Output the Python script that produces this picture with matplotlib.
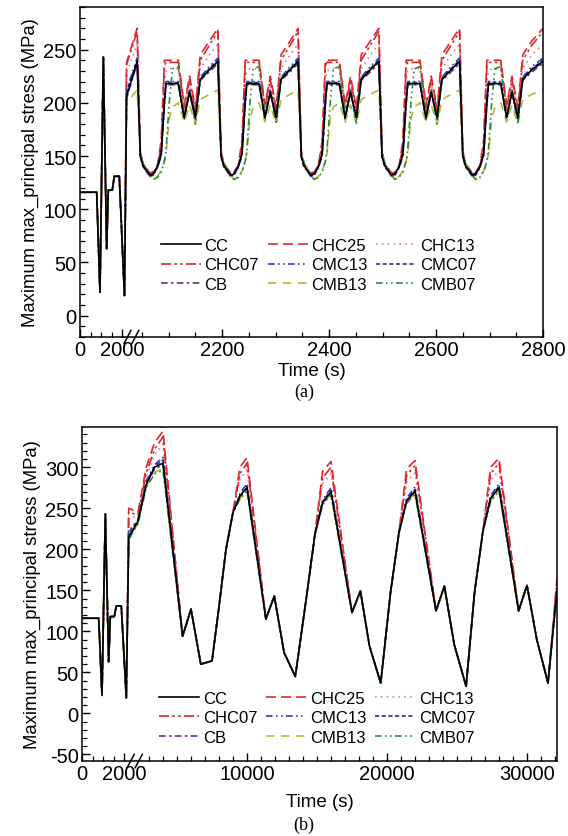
import numpy as np
import matplotlib
matplotlib.use("Agg")
import matplotlib.pyplot as plt
from matplotlib.ticker import FixedLocator

plt.rcParams['font.family'] = ['Liberation Sans', 'DejaVu Sans']
plt.rcParams['axes.unicode_minus'] = False

names = ["CC", "CHC25", "CHC13", "CHC07", "CMC13", "CMC07", "CB", "CMB13", "CMB07"]
colors = {"CC": "#000000", "CHC25": "#e3262e", "CHC13": "#e87a95", "CHC07": "#d42a2a",
          "CMC13": "#2b3bd6", "CMC07": "#26308a", "CB": "#6a2a8a", "CMB13": "#b8b830",
          "CMB07": "#2e8b3a"}
dashes = {"CC": None, "CHC25": (6, 3), "CHC13": (1, 2.5), "CHC07": (6, 2, 1.5, 2, 1.5, 2),
          "CMC13": (4, 2, 1, 2, 1, 2), "CMC07": (2.5, 1.5), "CB": (4, 2, 1.5, 2),
          "CMB13": (5, 4), "CMB07": (4, 2, 1, 2, 1, 2)}

# first part before the axis break (all curves lie on top of each other)
seg1_t = [0, 795, 952, 1110, 1270, 1348, 1538, 1633, 1871]
seg1_y = [116, 116, 22, 243, 63, 118, 118, 131, 131]

# ---- panel (a): 0-2800 s
top_gap_t = [2007, 2013]
top_gap = {"CC": 206, "CHC25": 238, "CHC13": 228, "CHC07": 236, "CMC13": 212,
           "CMC07": 210, "CB": 205, "CMB13": 200, "CMB07": 204}
top_drops = [2041, 2192, 2342, 2493, 2644]
top_end = 2800
cyc_dt = [0, 6, 11, 24, 30, 38, 45, 51, 54, 60, 66, 77, 88, 98, 109, 118, 135]
top_cycle = {
    "CC":    [239, 150, 141, 132, 133, 140, 152, 200, 218, 218, 218, 218, 186, 210, 186, 222, 231],
    "CHC25": [270, 155, 143, 134, 135, 141, 165, 240, 240, 240, 240, 240, 198, 225, 195, 245, 258],
    "CHC13": [255, 152, 142, 133, 134, 140, 155, 220, 230, 232, 232, 232, 190, 218, 190, 232, 245],
    "CHC07": [267, 153, 142, 133, 134, 140, 160, 235, 238, 238, 238, 238, 195, 222, 192, 240, 254],
    "CMC13": [242, 150, 140, 131, 132, 139, 150, 205, 220, 220, 220, 220, 184, 212, 184, 224, 234],
    "CMC07": [240, 149, 140, 131, 132, 140, 151, 202, 219, 219, 219, 219, 185, 211, 185, 223, 232],
    "CB":    [237, 151, 142, 133, 134, 141, 153, 198, 217, 217, 217, 217, 187, 209, 187, 221, 229],
    "CMB13": [212, 152, 143, 132, 128, 131, 136, 145, 152, 185, 196, 200, 182, 198, 180, 203, 208],
    "CMB07": [238, 153, 143, 132, 128, 130, 135, 145, 155, 200, 232, 234, 188, 212, 180, 222, 231],
}

# ---- panel (b): 0-32000 s
bot_gap_t = [2025, 2052]
bot_gap = {"CC": 215, "CHC25": 250, "CHC13": 238, "CHC07": 245, "CMC13": 222,
           "CMC07": 220, "CB": 214, "CMB13": 212, "CMB07": 212}
bot_t = [2214, 2800, 3400, 4000, 5400, 6000, 6700, 7500, 8000, 8500, 9000, 9500, 10000,
         11350, 11950, 12650, 13450, 14250, 14850, 15400, 16000,
         17500, 18100, 18750, 19550, 20250, 20850, 21400, 22000,
         23500, 24100, 24800, 25650, 26250, 26850, 27400, 28000,
         29400, 30000, 30700, 31500, 32143]
bot_cc = [234, 279, 300, 305, 94, 127, 60, 64, 130, 200, 245, 265, 275,
          115, 143, 74, 45, 142, 218, 257, 270,
          123, 149, 82, 37, 147, 220, 259, 271,
          125, 155, 84, 33, 147, 222, 260, 275,
          125, 156, 90, 37, 151]
pre_idx = [2, 11, 19, 27, 35]
peak_idx = [3, 12, 20, 28, 36]
bot_start = {"CC": [234, 279], "CHC25": [245, 300], "CHC13": [240, 288], "CHC07": [242, 293],
             "CMC13": [236, 283], "CMC07": [235, 281], "CB": [234, 278], "CMB13": [232, 276],
             "CMB07": [231, 275]}
bot_pre = {"CC": [300, 265, 257, 259, 262], "CHC25": [330, 300, 295, 298, 300],
           "CHC13": [315, 285, 280, 282, 284], "CHC07": [322, 292, 287, 290, 292],
           "CMC13": [303, 268, 260, 262, 265], "CMC07": [301, 266, 258, 260, 263],
           "CB": [298, 264, 256, 258, 261], "CMB13": [294, 262, 255, 257, 259],
           "CMB07": [292, 261, 254, 256, 258]}
bot_peak = {"CC": [305, 275, 270, 271, 275], "CHC25": [344, 312, 307, 308, 311],
            "CHC13": [328, 297, 292, 293, 296], "CHC07": [337, 305, 300, 302, 305],
            "CMC13": [312, 280, 275, 276, 280], "CMC07": [309, 277, 272, 273, 277],
            "CB": [303, 274, 269, 270, 274], "CMB13": [298, 272, 267, 268, 272],
            "CMB07": [296, 271, 266, 267, 271]}
bot_end_red = {"CHC25": 165, "CHC07": 160}


def top_series(name):
    t = seg1_t + top_gap_t
    y = seg1_y + [19, top_gap[name]]
    prof = top_cycle[name]
    for d in top_drops:
        t = t + [d + dt for dt in cyc_dt]
        y = y + prof
    t.append(top_end)
    y.append(prof[0])
    return t, y


def bot_series(name):
    y = list(bot_cc)
    y[0:2] = bot_start[name]
    for i, v in zip(pre_idx, bot_pre[name]):
        y[i] = v
    for i, v in zip(peak_idx, bot_peak[name]):
        y[i] = v
    if name in bot_end_red:
        y[-1] = bot_end_red[name]
    return seg1_t + bot_gap_t + bot_t, seg1_y + [19, bot_gap[name]] + y


def broken_scale(t_break_end, t_max, w_total, w1=42.0, w_gap=13.0):
    s3 = (w_total - w1 - w_gap) / (t_max - t_break_end)
    tb = [-1e6, 0, 2000, t_break_end, t_max, 1e7]
    ub = [-1e6 * w1 / 2000, 0, w1, w1 + w_gap, w_total, w_total + (1e7 - t_max) * s3]
    return (lambda t: np.interp(t, tb, ub)), (lambda u: np.interp(u, ub, tb))


def style_axes(ax, frac0, xpad):
    for sp in ax.spines.values():
        sp.set_linewidth(1.1)
    ax.tick_params(which='both', direction='in', top=False, right=False, labelsize=14.5)
    ax.tick_params(which='major', length=6, width=1.0, pad=2.5)
    ax.tick_params(which='minor', length=3.5, width=0.9)
    ax.set_xlabel('Time (s)', fontsize=13.5, labelpad=xpad)
    ax.set_ylabel('Maximum max_principal stress (MPa)', fontsize=13.3, labelpad=3)
    # break marks on the time axis
    for x0 in (frac0, frac0 + 0.017):
        ax.plot([x0, x0 + 0.015], [-0.02, 0.02], transform=ax.transAxes, color='black',
                lw=1.1, clip_on=False, zorder=5)


fig = plt.figure(figsize=(5.68, 8.37), dpi=100)
ax1 = fig.add_axes([80 / 568, 1 - 338 / 837, 463 / 568, 330 / 837])
ax2 = fig.add_axes([82 / 568, 1 - 762 / 837, 475 / 568, 334 / 837])

for ax, builder in ((ax1, top_series), (ax2, bot_series)):
    for name in names:
        t, y = builder(name)
        line, = ax.plot(t, y, color=colors[name], lw=1.2, label=name,
                        zorder=3 if name == "CC" else 2)
        if dashes[name] is not None:
            line.set_dashes(dashes[name])

# panel (a) axes
fwd, inv = broken_scale(2037, 2800, 463)
ax1.set_xscale('function', functions=(fwd, inv))
ax1.set_xlim(0, 2800)
ax1.set_ylim(-20, 290)
ax1.xaxis.set_major_locator(FixedLocator([0, 2000, 2200, 2400, 2600, 2800]))
ax1.xaxis.set_minor_locator(FixedLocator([500, 1000, 1500] +
                                         [v for v in range(2050, 2800, 50) if v % 200]))
ax1.set_xticklabels(['0', '2000', '2200', '2400', '2600', '2800'])
ax1.yaxis.set_major_locator(FixedLocator(range(0, 300, 50)))
ax1.yaxis.set_minor_locator(FixedLocator([v for v in range(-20, 291, 10) if v % 50]))
style_axes(ax1, 0.095, 1.5)

# panel (b) axes
fwd2, inv2 = broken_scale(2143, 32143, 475)
ax2.set_xscale('function', functions=(fwd2, inv2))
ax2.set_xlim(0, 32143)
ax2.set_ylim(-58, 349)
ax2.xaxis.set_major_locator(FixedLocator([0, 2000, 10000, 20000, 30000]))
ax2.xaxis.set_minor_locator(FixedLocator([500, 1000, 1500] +
                                         [v for v in range(3000, 32001, 1000) if v % 10000]))
ax2.set_xticklabels(['0', '2000', '10000', '20000', '30000'])
ax2.yaxis.set_major_locator(FixedLocator(range(-50, 350, 50)))
ax2.yaxis.set_minor_locator(FixedLocator([v for v in range(-50, 349, 10) if v % 50]))
style_axes(ax2, 0.095, 7)

# legends: three columns, filled column by column
order = ["CC", "CHC07", "CB", "CHC25", "CMC13", "CMB13", "CHC13", "CMC07", "CMB07"]
for ax, anchor in ((ax1, (0.174, 0.30)), (ax2, (0.163, 0.211))):
    h, l = ax.get_legend_handles_labels()
    hd = dict(zip(l, h))
    ax.legend([hd[k] for k in order], order, ncol=3, loc='upper left', bbox_to_anchor=anchor,
              frameon=False, fontsize=12, handlelength=2.4, handletextpad=0.2,
              columnspacing=0.55, labelspacing=0.27, borderpad=0, borderaxespad=0)

fig.text(0.535, 1 - 392 / 837, '(a)', family=['Liberation Serif', 'DejaVu Serif'],
         fontsize=13, ha='center', va='center')
fig.text(0.535, 1 - 825 / 837, '(b)', family=['Liberation Serif', 'DejaVu Serif'],
         fontsize=13, ha='center', va='center')

fig.savefig('out.png', dpi=100)
